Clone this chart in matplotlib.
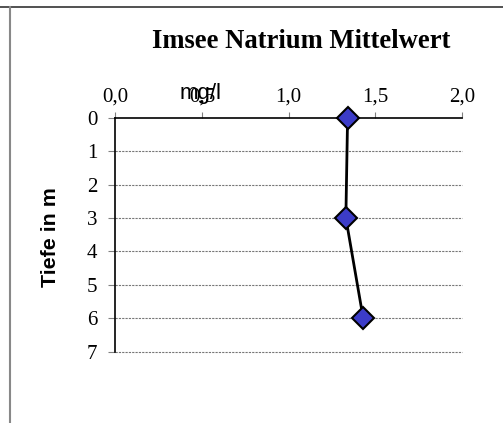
import matplotlib
matplotlib.use("Agg")
import matplotlib.pyplot as plt
from matplotlib.lines import Line2D

# Data
depths = [0, 3, 6]
natrium = [1.34, 1.33, 1.43]
x_ticks = [0.0, 0.5, 1.0, 1.5, 2.0]
x_tick_labels = ["0,0", "0,5", "1,0", "1,5", "2,0"]
y_ticks = [0, 1, 2, 3, 4, 5, 6, 7]
title = "Imsee Natrium Mittelwert"
x_label = "mg/l"
y_label = "Tiefe in m"

W, H = 503, 423
fig = plt.figure(figsize=(W / 100, H / 100), dpi=100)
fig.patch.set_facecolor("white")

ax = fig.add_axes([115.3 / W, 1 - 351.7 / H, (462 - 115.3) / W, (351.7 - 117.7) / H])
ax.set_xlim(0, 2)
ax.set_ylim(7, 0)

serif = "Liberation Serif"
sans = "Liberation Sans"

ax.plot(natrium, depths, color="black", lw=2, marker="D", markersize=11,
        markerfacecolor="#3c3cc8", markeredgecolor="black", markeredgewidth=1.5,
        zorder=5, clip_on=False)

ax.set_xticks(x_ticks)
ax.set_xticklabels(x_tick_labels, fontfamily=serif, fontsize=15)
ax.set_yticks(y_ticks)
ax.set_yticklabels([str(v) for v in y_ticks], fontfamily=serif, fontsize=15)
ax.xaxis.tick_top()
ax.tick_params(axis="x", length=4, width=0.8, color="#808080", pad=4)
ax.tick_params(axis="y", length=5, width=0.8, color="#808080", pad=8)

for s in ["right", "bottom"]:
    ax.spines[s].set_visible(False)
for s in ["top", "left"]:
    ax.spines[s].set_color("black")
    ax.spines[s].set_linewidth(1.2)

for yv in y_ticks[1:]:
    ax.axhline(yv, color="#777777", lw=0.8, ls=(0, (2, 1)), zorder=1, clip_on=False)

fig.text(301 / W, 1 - 42 / H, title, fontfamily=serif, fontweight="bold",
         fontsize=19.2, ha="center", va="center")
fig.text(50 / W, 1 - 237 / H, y_label, fontfamily=sans, fontweight="bold",
         fontsize=15.4, ha="center", va="center", rotation=90)
fig.text(201 / W, 1 - 94 / H, x_label, fontfamily=sans, fontsize=16,
         ha="center", va="center")

# frame lines
fig.add_artist(Line2D([0, 1], [1 - 7 / H, 1 - 7 / H], color="#333333", lw=1.2,
                      transform=fig.transFigure))
fig.add_artist(Line2D([10 / W, 10 / W], [0, 1 - 7 / H], color="#888888", lw=1.5,
                      transform=fig.transFigure))

fig.savefig("out.png", dpi=100)
